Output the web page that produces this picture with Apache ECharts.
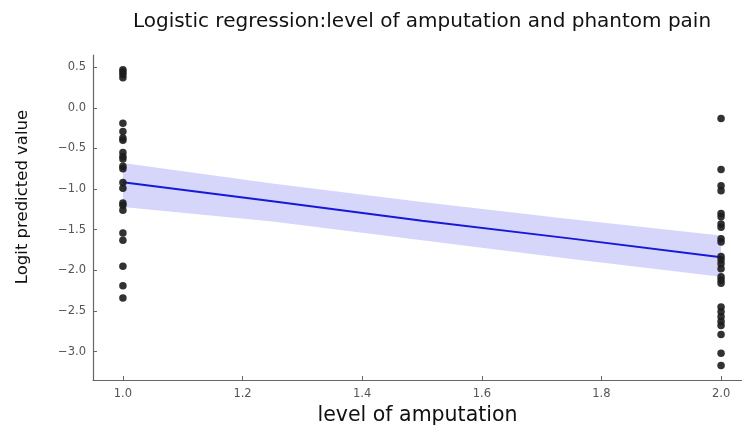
<!DOCTYPE html>
<html>
<head>
<meta charset="utf-8">
<script src="https://cdn.jsdelivr.net/npm/echarts@6/dist/echarts.min.js"></script>
<style>html,body{margin:0;padding:0;background:#fff}#c{width:742px;height:426px}</style>
</head>
<body>
<div id="c"></div>
<script>
// Data
const xTicks = [1.0, 1.2, 1.4, 1.6, 1.8, 2.0];
const yTicks = [-3.0, -2.5, -2.0, -1.5, -1.0, -0.5, 0.0, 0.5];

const level1Values = [0.47, 0.44, 0.41, 0.37, -0.19, -0.29, -0.37, -0.40, -0.55, -0.60, -0.63, -0.72, -0.75, -0.92, -0.99, -1.17, -1.20, -1.26, -1.54, -1.63, -1.95, -2.19, -2.34];
const level2Values = [-0.13, -0.76, -0.96, -1.02, -1.30, -1.34, -1.43, -1.47, -1.61, -1.65, -1.83, -1.87, -1.92, -1.98, -2.08, -2.12, -2.16, -2.45, -2.51, -2.57, -2.63, -2.68, -2.79, -3.02, -3.17];

const fitX = [1.0, 1.25, 1.5, 1.75, 2.0];
const fitY = [-0.915, -1.15, -1.39, -1.61, -1.84];
const bandUpper = [-0.68, -0.93, -1.16, -1.37, -1.57];
const bandLower = [-1.22, -1.40, -1.63, -1.86, -2.08];

const fmt = v => {
  const s = Math.abs(v).toFixed(1);
  return v < -1e-9 ? '\u2212' + s : s;
};

const points = [];
level1Values.forEach(v => points.push([1.0, v]));
level2Values.forEach(v => points.push([2.0, v]));

const bandPoly = [];
for (let i = 0; i < fitX.length; i++) bandPoly.push([fitX[i], bandUpper[i]]);
for (let i = fitX.length - 1; i >= 0; i--) bandPoly.push([fitX[i], bandLower[i]]);

const chart = echarts.init(document.getElementById('c'), null, {renderer: 'canvas'});
chart.setOption({
  animation: false,
  backgroundColor: '#fff',
  title: {
    text: 'Logistic regression:level of amputation and phantom pain',
    left: 417, top: 7, textAlign: 'center',
    textStyle: {fontFamily: 'DejaVu Sans', fontSize: 20, fontWeight: 'normal', color: '#111'}
  },
  graphic: [{
    type: 'text', x: 23, y: 197, rotation: Math.PI / 2,
    style: {text: 'Logit predicted value', fontFamily: 'DejaVu Sans', fontSize: 16.5, fill: '#111', align: 'center', verticalAlign: 'middle'}
  }],
  grid: {left: 93, right: 0, top: 55, bottom: 46, outerBoundsMode: 'none', containLabel: false},
  xAxis: {
    type: 'value', min: 0.95, max: 2.035,
    name: 'level of amputation', nameLocation: 'middle', nameGap: 24,
    nameTextStyle: {fontFamily: 'DejaVu Sans', fontSize: 20.5, color: '#111'},
    axisLine: {show: true, onZero: false, lineStyle: {color: '#666', width: 1.2}},
    axisTick: {show: true, inside: true, length: 4, customValues: xTicks, lineStyle: {color: '#666'}},
    axisLabel: {customValues: xTicks, formatter: fmt, color: '#555', fontSize: 11.5, fontFamily: 'DejaVu Sans', margin: 8},
    splitLine: {show: false}
  },
  yAxis: {
    type: 'value', min: -3.35, max: 0.65,
    axisLine: {show: true, onZero: false, lineStyle: {color: '#666', width: 1.2}},
    axisTick: {show: true, inside: true, length: 4, customValues: yTicks, lineStyle: {color: '#666'}},
    axisLabel: {customValues: yTicks, formatter: fmt, color: '#555', fontSize: 11.5, fontFamily: 'DejaVu Sans', margin: 7},
    splitLine: {show: false}
  },
  series: [
    {
      type: 'custom', z: 1, silent: true,
      renderItem: function (params, api) {
        const pts = bandPoly.map(p => api.coord(p));
        return {type: 'polygon', shape: {points: pts}, style: {fill: '#d6d6fb', stroke: null}};
      },
      data: [0]
    },
    {
      type: 'line', z: 3, symbol: 'none', smooth: false,
      data: fitX.map((x, i) => [x, fitY[i]]),
      lineStyle: {color: '#1818d8', width: 2}
    },
    {
      type: 'scatter', z: 4, symbolSize: 7.5,
      data: points,
      itemStyle: {color: '#1c1c1c', opacity: 0.9}
    }
  ]
});
</script>
</body>
</html>
